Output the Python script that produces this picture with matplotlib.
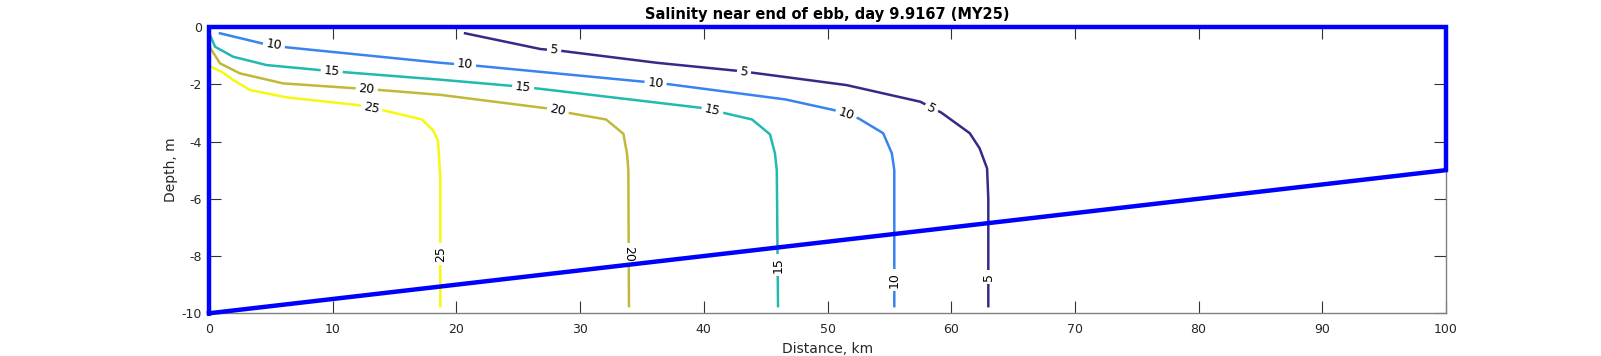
import numpy as np
import matplotlib
matplotlib.use("Agg")
import matplotlib.pyplot as plt

plt.rcParams['font.family'] = ['DejaVu Sans']
plt.rcParams['axes.unicode_minus'] = False

# ---- data (distance km, depth m) ----
levels = [5, 10, 15, 20, 25]

c5_x = [20.7, 26.8, 28.6, 36.2, 42.7, 44.0, 47.0, 51.55, 57.5, 59.2, 61.5, 62.3, 62.9, 63.0, 63.0]
c5_z = [-0.22, -0.77, -0.84, -1.25, -1.53, -1.60, -1.77, -2.03, -2.61, -2.99, -3.71, -4.24, -4.94, -6.0, -9.75]

c10_x = [0.89, 4.26, 6.28, 18.7, 21.8, 35.1, 37.2, 46.6, 50.5, 52.5, 54.5, 55.2, 55.4, 55.4]
c10_z = [-0.22, -0.57, -0.71, -1.25, -1.36, -1.91, -2.00, -2.53, -2.90, -3.19, -3.71, -4.41, -5.0, -9.75]

c15_x = [0.0, 0.08, 0.49, 1.96, 4.66, 8.84, 11.0, 18.7, 24.3, 26.4, 39.7, 41.7, 43.9, 45.35, 45.75, 45.9, 46.0]
c15_z = [-0.22, -0.28, -0.69, -1.04, -1.33, -1.50, -1.58, -1.84, -2.05, -2.14, -2.82, -3.01, -3.23, -3.75, -4.41, -5.0, -9.75]

c20_x = [0.0, 0.89, 2.5, 6.0, 11.8, 13.8, 18.7, 27.3, 29.2, 32.1, 33.5, 33.8, 33.9, 33.95]
c20_z = [-0.66, -1.27, -1.62, -1.97, -2.14, -2.20, -2.37, -2.84, -3.01, -3.23, -3.73, -4.45, -5.0, -9.75]

c25_x = [0.0, 1.0, 1.96, 3.3, 6.3, 11.9, 14.2, 17.2, 18.1, 18.5, 18.6, 18.7, 18.7]
c25_z = [-1.36, -1.56, -1.85, -2.2, -2.46, -2.72, -2.92, -3.23, -3.6, -3.95, -4.53, -5.34, -9.75]

# contour label positions
lab5_x = [27.9, 43.25, 58.4, 63.0]
lab5_z = [-0.80, -1.56, -2.84, -8.72]
lab10_x = [5.25, 20.7, 36.1, 51.5, 55.4]
lab10_z = [-0.63, -1.31, -1.95, -3.05, -8.85]
lab15_x = [9.92, 25.4, 40.7, 46.0]
lab15_z = [-1.53, -2.09, -2.91, -8.30]
lab20_x = [12.75, 28.2, 33.95]
lab20_z = [-2.17, -2.92, -7.94]
lab25_x = [13.15, 18.7]
lab25_z = [-2.84, -7.94]

# domain boundary
bnd_x = [0, 100, 100, 0, 0]
bnd_z = [-10, -5, 0, 0, -10]

xticks = list(range(0, 101, 10))
yticks = list(range(-10, 1, 2))

title = "Salinity near end of ebb, day 9.9167 (MY25)"
xlabel = "Distance, km"
ylabel = "Depth, m"

# ---- styles ----
colors = {5: '#352a87', 10: '#3784f0', 15: '#22b9b0', 20: '#c0b938', 25: '#f7f80f'}

fig = plt.figure(figsize=(16.01, 3.56), dpi=100)
ax = fig.add_axes([209/1601, 1-313.3/356, (1446-209)/1601, (313.3-27)/356])

lines = {5: (c5_x, c5_z), 10: (c10_x, c10_z), 15: (c15_x, c15_z),
         20: (c20_x, c20_z), 25: (c25_x, c25_z)}
labs = {5: (lab5_x, lab5_z), 10: (lab10_x, lab10_z), 15: (lab15_x, lab15_z),
        20: (lab20_x, lab20_z), 25: (lab25_x, lab25_z)}
flip_vertical = {20}

for lev in levels:
    xs, zs = lines[lev]
    ax.plot(xs, zs, color=colors[lev], lw=1.8, zorder=2, solid_joinstyle='round')

ax.set_xlim(0, 100)
ax.set_ylim(-10, 0)
fig.canvas.draw()

def seg_angle(xs, zs, px, pz):
    xs = np.asarray(xs); zs = np.asarray(zs)
    pts = ax.transData.transform(np.column_stack([xs, zs]))
    p = ax.transData.transform((px, pz))
    best, bi = 1e9, 0
    for i in range(len(xs) - 1):
        a, b = pts[i], pts[i + 1]
        d = b - a
        t = np.clip(np.dot(p - a, d) / max(np.dot(d, d), 1e-9), 0, 1)
        dist = np.linalg.norm(a + t * d - p)
        if dist < best:
            best, bi = dist, i
    d = pts[bi + 1] - pts[bi]
    ang = np.degrees(np.arctan2(d[1], d[0]))
    while ang > 90: ang -= 180
    while ang <= -90: ang += 180
    return ang

for lev in levels:
    xs, zs = lines[lev]
    lx, lz = labs[lev]
    for px, pz in zip(lx, lz):
        ang = seg_angle(xs, zs, px, pz)
        if abs(ang) > 80:
            ang = -90 if lev in flip_vertical else 90
        ax.text(px, pz, str(lev), rotation=ang, rotation_mode='anchor',
                ha='center', va='center', fontsize=9, color='black', zorder=4,
                bbox=dict(boxstyle='square,pad=0.25', fc='white', ec='none'))

ax.plot(bnd_x, bnd_z, color='#0000ff', lw=3.2, zorder=5, clip_on=False,
        solid_joinstyle='miter')

ax.set_xticks(xticks)
ax.set_yticks(yticks)
ax.set_xticklabels([str(t) for t in xticks])
ax.set_yticklabels([str(t) for t in yticks])
ax.tick_params(direction='in', length=8.6, width=0.8, color='#333333',
               labelcolor='#262626', labelsize=9, top=True, right=True)
ax.tick_params(axis='x', pad=7)
ax.tick_params(axis='y', pad=5)
for s in ax.spines.values():
    s.set_color('#808080')
    s.set_linewidth(1.0)

ax.set_title(title, fontsize=10.5, fontweight='bold', color='black', pad=6)
ax.set_xlabel(xlabel, fontsize=10, color='#262626', labelpad=4)
ax.set_ylabel(ylabel, fontsize=10, color='#262626', labelpad=2.5)

fig.savefig('out.png', dpi=100, facecolor='white')
